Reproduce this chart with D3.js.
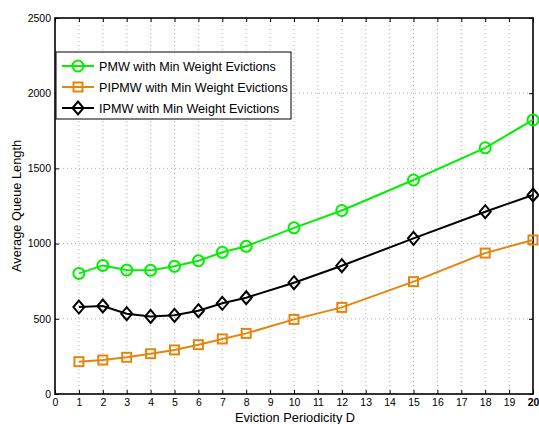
<!DOCTYPE html>
<html>
<head>
<meta charset="utf-8">
<script src="https://cdn.jsdelivr.net/npm/d3@7"></script>
<style>
  html, body { margin: 0; padding: 0; background: #fff; }
  svg { display: block; font-family: "Liberation Sans", Arial, sans-serif; }
</style>
</head>
<body>
<svg id="chart" width="539" height="424"></svg>
<script>
// Eviction periodicity values (x)
const periods = [1, 2, 3, 4, 5, 6, 7, 8, 10, 12, 15, 18, 20];

// Average queue length for each scheme
const pmw   = [802, 855, 824, 822, 849, 886, 942, 982, 1105, 1220, 1423, 1637, 1822];
const pipmw = [215, 226, 244, 268, 293, 328, 366, 403, 496, 576, 747, 937, 1024];
const ipmw  = [578, 585, 534, 516, 523, 554, 603, 640, 740, 853, 1035, 1212, 1323];

const seriesNames = [
  "PMW with Min Weight Evictions",
  "PIPMW with Min Weight Evictions",
  "IPMW with Min Weight Evictions"
];

const xTicks = d3.range(0, 21);
const yTicks = [0, 500, 1000, 1500, 2000, 2500];

const series = [
  { name: seriesNames[0], values: pmw,   color: "#00f000", marker: "circle" },
  { name: seriesNames[1], values: pipmw, color: "#e5850d", marker: "square" },
  { name: seriesNames[2], values: ipmw,  color: "#000000", marker: "diamond" }
];

const svg = d3.select("#chart");
const m = { left: 55, right: 6, top: 18, bottom: 30 };
const W = 539, H = 424;
const x = d3.scaleLinear().domain([0, 20]).range([m.left, W - m.right]);
const y = d3.scaleLinear().domain([0, 2500]).range([H - m.bottom, m.top]);

const x0 = x(0), x1 = x(20), y0 = y(0), y1 = y(2500);

// dotted grid
const grid = svg.append("g").attr("stroke", "#9a9a9a").attr("stroke-width", 0.8)
  .attr("stroke-dasharray", "1,3");
xTicks.slice(1, -1).forEach(t => {
  grid.append("line").attr("x1", x(t)).attr("x2", x(t)).attr("y1", y0).attr("y2", y1);
});
yTicks.slice(1, -1).forEach(t => {
  grid.append("line").attr("x1", x0).attr("x2", x1).attr("y1", y(t)).attr("y2", y(t));
});

// axes with inward ticks
const tickLen = 4;
const xAxis = svg.append("g").attr("transform", `translate(0,${y0})`)
  .call(d3.axisBottom(x).tickValues(xTicks).tickSize(-tickLen).tickPadding(5));
const xAxisTop = svg.append("g").attr("transform", `translate(0,${y1})`)
  .call(d3.axisTop(x).tickValues(xTicks).tickSize(-tickLen).tickFormat(""));
const yAxis = svg.append("g").attr("transform", `translate(${x0},0)`)
  .call(d3.axisLeft(y).tickValues(yTicks).tickSize(-tickLen).tickPadding(4).tickFormat(d3.format("d")));
const yAxisRight = svg.append("g").attr("transform", `translate(${x1},0)`)
  .call(d3.axisRight(y).tickValues(yTicks).tickSize(-tickLen).tickFormat(""));

[xAxis, xAxisTop, yAxis, yAxisRight].forEach(g => {
  g.select(".domain").remove();
  g.selectAll(".tick line").attr("stroke", "#000").attr("stroke-width", 1);
  g.selectAll("text").attr("font-family", "Liberation Sans, Arial, sans-serif")
    .attr("font-size", 10.5).attr("fill", "#000");
});
xAxis.selectAll(".tick text").filter(d => d === 20).attr("font-weight", "bold");

// plot box
svg.append("rect").attr("x", x0).attr("y", y1).attr("width", x1 - x0).attr("height", y0 - y1)
  .attr("fill", "none").attr("stroke", "#000").attr("stroke-width", 1.6);

// axis titles
svg.append("text").attr("x", 295).attr("y", 422).attr("text-anchor", "middle")
  .attr("font-size", 12.8).text("Eviction Periodicity D");
svg.append("text").attr("transform", `translate(21,${(y0 + y1) / 2}) rotate(-90)`)
  .attr("text-anchor", "middle").attr("font-size", 12.8).text("Average Queue Length");

function drawMarker(g, type, cx, cy, color) {
  if (type === "circle") {
    g.append("circle").attr("cx", cx).attr("cy", cy).attr("r", 5.5)
      .attr("fill", "none").attr("stroke", color).attr("stroke-width", 2);
  } else if (type === "square") {
    g.append("rect").attr("x", cx - 4.5).attr("y", cy - 4.5).attr("width", 9).attr("height", 9)
      .attr("fill", "none").attr("stroke", color).attr("stroke-width", 2);
  } else {
    const r = 6.5, w = 5.5;
    g.append("path").attr("d", `M${cx},${cy - r}L${cx + w},${cy}L${cx},${cy + r}L${cx - w},${cy}Z`)
      .attr("fill", "none").attr("stroke", color).attr("stroke-width", 2);
  }
}

const line = d3.line().x(d => x(d[0])).y(d => y(d[1]));

series.forEach(s => {
  const pts = periods.map((p, i) => [p, s.values[i]]);
  const g = svg.append("g");
  g.append("path").datum(pts).attr("d", line).attr("fill", "none")
    .attr("stroke", s.color).attr("stroke-width", 2);
  pts.forEach(p => drawMarker(g, s.marker, x(p[0]), y(p[1]), s.color));
});

// legend
const leg = svg.append("g");
leg.append("rect").attr("x", 56).attr("y", 52).attr("width", 235).attr("height", 67)
  .attr("fill", "#fff").attr("stroke", "#000").attr("stroke-width", 1);
series.forEach((s, i) => {
  const ly = 66 + i * 21;
  leg.append("line").attr("x1", 62).attr("x2", 94).attr("y1", ly).attr("y2", ly)
    .attr("stroke", s.color).attr("stroke-width", 2);
  drawMarker(leg, s.marker, 78, ly, s.color);
  leg.append("text").attr("x", 99).attr("y", ly + 4.5).attr("font-size", 12.6).text(s.name);
});
</script>
</body>
</html>
